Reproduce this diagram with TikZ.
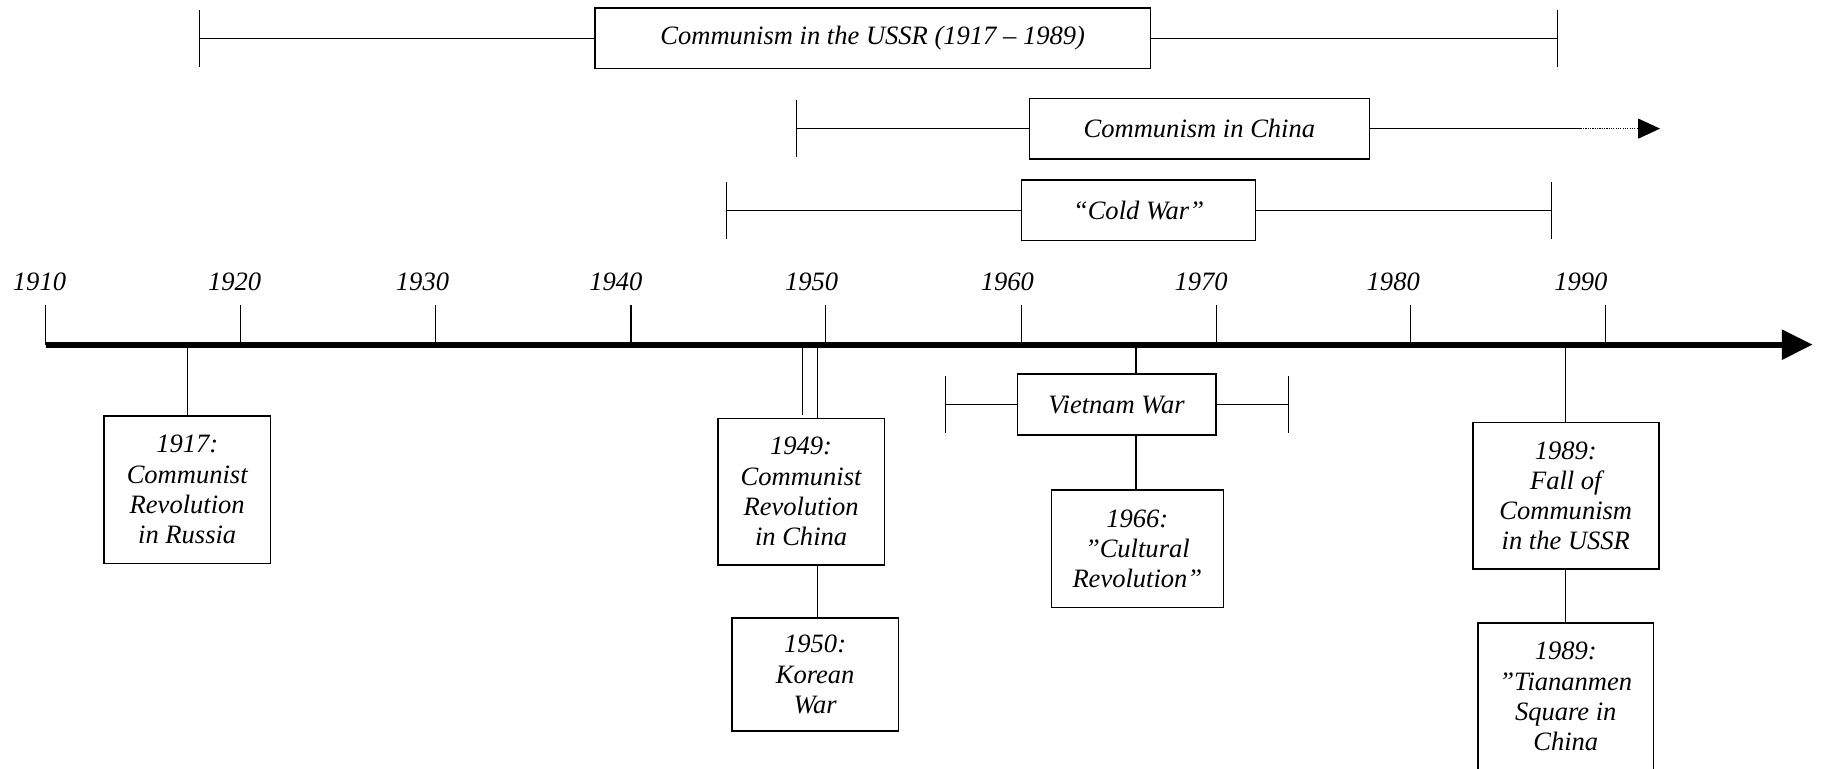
\documentclass[tikz,border=0pt]{standalone}
\usepackage{fontspec}
\setmainfont{Liberation Serif}
\usetikzlibrary{arrows.meta}
\begin{document}
\begin{tikzpicture}[x=0.6pt,y=-0.6pt,
  lbl/.style={font=\itshape\fontsize{13.7}{15.6}\selectfont, inner sep=0pt},
  evbox/.style 2 args={draw, line width=0.8pt, lbl, align=center,
    minimum width=#1*0.6pt, minimum height=#2*0.6pt},
  rule/.style={line width=0.6pt}]
\useasboundingbox (0,0) rectangle (1568,661);

% ---- period bars above the axis ----
\node[evbox={478}{52}] (ussr) at (751,33) {Communism in the USSR (1917 – 1989)};
\coordinate (ussrL) at (172,33);
\coordinate (ussrR) at (1340,33);
\draw[rule] (ussrL) -- (ussr.west) (ussr.east) -- (ussrR);
\draw[rule] (ussrL) ++(0,-24.5) -- ++(0,49);
\draw[rule] (ussrR) ++(0,-24.5) -- ++(0,49);

\node[evbox={292.8}{52.2}] (china) at (1032.2,110.7) {Communism in China};
\coordinate (chinaL) at (685.4,110.7);
\coordinate (chinaS) at (1360.4,110.7);
\coordinate (chinaE) at (1428.6,110.7);
\draw[rule] (chinaL) -- (china.west) (china.east) -- (chinaS);
\draw[line width=0.5pt, dash pattern=on 0.6pt off 0.6pt,
  -{Triangle[length=11.3pt,width=10.3pt]}] (chinaS) -- (chinaE);
\draw[rule] (chinaL) ++(0,-24.5) -- ++(0,49);

\node[evbox={201.6}{52}] (cold) at (979.8,181) {“Cold War”};
\coordinate (coldL) at (625.3,181);
\coordinate (coldR) at (1335.2,181);
\draw[rule] (coldL) -- (cold.west) (cold.east) -- (coldR);
\draw[rule] (coldL) ++(0,-24.5) -- ++(0,49);
\draw[rule] (coldR) ++(0,-24.5) -- ++(0,49);

% ---- time axis ----
\coordinate (axL) at (39.4,296.6);
\coordinate (axR) at (1560,296.6);
\foreach \x in {39.4,207,374.7,543,710.6,879,1046.7,1214,1381.6}
  \draw[rule] (\x,262.5) -- (\x,296.6);
\draw[line width=3pt, -{Triangle[length=15.9pt,width=14.9pt]}] (axL) -- (axR);
\foreach \yr/\x in {1910/34,1920/202,1930/363.6,1940/530,1950/698.5,
                    1960/867,1970/1033.6,1980/1199,1990/1360.4}
  \node[lbl, anchor=base] (y\yr) at (\x,249.6) {\yr};

% ---- events below the axis ----
\node[evbox={143.4}{126.8}] (e1917) at (161.1,421.4)
  {1917:\\Communist\\Revolution\\in Russia};
\draw[rule] (e1917.north |- axL) -- (e1917.north);

\node[evbox={143.4}{126.2}] (e1949) at (689.4,423.1)
  {1949:\\Communist\\Revolution\\in China};
\coordinate (c49a) at (690.4,296.6);
\coordinate (c49b) at (703.5,296.6);
\draw[rule] (c49a) -- ++(0,60.4);
\draw[rule] (c49b) -- (c49b |- e1949.north);
\node[evbox={143.5}{97}] (e1950) at (701.5,580.5) {1950:\\Korean\\War};
\draw[rule] (c49b |- e1949.south) -- (c49b |- e1950.north);

\node[evbox={170.8}{52.4}] (viet) at (960.9,348.2) {Vietnam War};
\coordinate (vx) at (977.6,296.6);
\draw[rule] (vx) -- (vx |- viet.north);
\coordinate (vL) at (814,348.2);
\coordinate (vR) at (1108.5,348.2);
\draw[rule] (vL) -- (viet.west) (viet.east) -- (vR);
\draw[rule] (vL) ++(0,-24.5) -- ++(0,49);
\draw[rule] (vR) ++(0,-24.5) -- ++(0,49);
\node[evbox={148}{100.9}] (e1966) at (978.8,472.2)
  {1966:\\”Cultural\\Revolution”};
\draw[rule] (vx |- viet.south) -- (vx |- e1966.north);

\node[evbox={160.1}{126}] (e1989a) at (1347.5,426.7)
  {1989:\\Fall of\\Communism\\in the USSR};
\node[evbox={151}{127}] (e1989b) at (1347.5,599.5)
  {1989:\\”Tiananmen\\Square in\\China};
\coordinate (fx) at (1347.5,296.6);
\draw[rule] (fx) -- (e1989a.north);
\draw[rule] (e1989a.south) -- (e1989b.north);
\end{tikzpicture}
\end{document}
